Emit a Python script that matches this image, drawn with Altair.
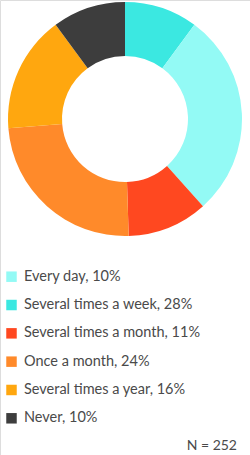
import altair as alt
import pandas as pd

categories = ["Every day", "Several times a week", "Several times a month",
              "Once a month", "Several times a year", "Never"]
values = [10, 28, 11, 24, 16, 10]
legend_colors = ["#93FAF5", "#3BE8E1", "#FF4820", "#FF8A2A", "#FFA70F", "#3D3D3D"]
slice_colors = ["#3BE8E1", "#93FAF5", "#FF4820", "#FF8A2A", "#FFA70F", "#3D3D3D"]
n_label = "N = 252"

df = pd.DataFrame({
    "category": categories,
    "value": values,
    "order": list(range(len(categories))),
    "slice_color": slice_colors,
    "legend_color": legend_colors,
    "label": [f"{c}, {v}%" for c, v in zip(categories, values)],
})

base = alt.Chart(df)

donut = base.mark_arc(outerRadius=117, innerRadius=63, stroke=None).encode(
    theta=alt.Theta("value:Q", stack=True),
    order=alt.Order("order:Q"),
    color=alt.Color("slice_color:N", scale=None),
    x=alt.value(125),
    y=alt.value(119),
)

ypos = alt.Y("order:Q", scale=alt.Scale(domain=[0, 5], range=[276.7, 418.3]), axis=None)

squares = base.mark_square(size=110, opacity=1).encode(
    x=alt.value(11.5),
    y=ypos,
    color=alt.Color("legend_color:N", scale=None),
)

labels = base.mark_text(align="left", baseline="middle", font="Lato",
                        fontSize=14.5, color="#4a4a4a").encode(
    x=alt.value(24),
    y=ypos,
    text="label:N",
)

ntext = alt.Chart(pd.DataFrame({"t": [n_label]})).mark_text(
    align="right", baseline="middle", font="Lato", fontSize=14, color="#4a4a4a"
).encode(x=alt.value(237), y=alt.value(446), text="t:N")

chart = alt.layer(donut, squares, labels, ntext).properties(
    width=250, height=455, padding=0,
    autosize=alt.AutoSizeParams(type="none"),
).configure_view(stroke=None).configure(background="white")

chart.save("out.html", embed_options={"renderer": "svg", "actions": False})
